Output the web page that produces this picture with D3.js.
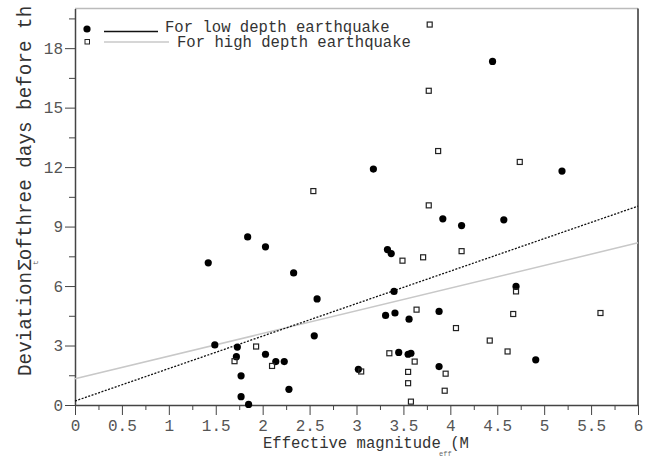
<!doctype html>
<html>
  <head>
    <meta charset="UTF-8">
    <title>Deviation vs effective magnitude</title>
    <script src="https://d3js.org/d3.v7.min.js"></script>
    <style>
      body { margin: 0; background: #fff; }
      text { font-family: "Liberation Mono", "DejaVu Sans Mono", monospace; }
      .tick text { font-size: 16px; fill: #555; }
      .axis path, .axis line { stroke: #444; }
    </style>
  </head>
  <body>
    <svg id="chart" width="648" height="458"></svg>
    <script>
      // low depth earthquakes (filled circles)
      const lowMag = [1.42, 1.49, 1.84, 2.03, 2.33, 2.58, 2.55, 1.73, 1.72, 2.03, 2.14, 2.23,
        1.77, 1.77, 1.85, 2.28, 3.02, 3.33, 3.37, 3.92, 3.40, 3.31, 3.41, 3.56, 3.88, 3.45,
        3.55, 3.58, 3.88, 3.18, 4.45, 5.19, 4.12, 4.57, 4.70, 4.91];
      const lowDev = [7.17, 3.03, 8.48, 7.98, 6.66, 5.35, 3.49, 2.92, 2.44, 2.56, 2.19, 2.19,
        1.47, 0.42, 0.03, 0.79, 1.80, 7.84, 7.64, 9.39, 5.73, 4.52, 4.64, 4.33, 4.72, 2.65,
        2.56, 2.61, 1.94, 11.90, 17.33, 11.80, 9.05, 9.34, 5.98, 2.28];

      // high depth earthquakes (open squares)
      const highMag = [1.70, 1.93, 2.10, 3.05, 3.49, 3.71, 3.77, 3.64, 3.35, 3.62, 3.55, 3.55,
        3.58, 3.95, 3.94, 3.78, 3.77, 3.87, 2.54, 4.74, 4.12, 4.70, 4.67, 5.60, 4.06, 4.42, 4.61];
      const highDev = [2.21, 2.95, 1.97, 1.69, 7.28, 7.45, 10.07, 4.81, 2.61, 2.19, 1.67, 1.10,
        0.17, 1.58, 0.72, 19.19, 15.85, 12.81, 10.79, 12.26, 7.76, 5.73, 4.59, 4.64, 3.88, 3.25, 2.70];

      // fitted lines, end points
      const fitMag = [0, 6];
      const lowFit = [0.2, 10.03];
      const highFit = [1.32, 8.18];

      const xTicks = d3.range(0, 6.01, 0.5);
      const yTicks = [0, 3, 6, 9, 12, 15, 18];
      const legendLabels = ["For low depth earthquake", "For high depth earthquake"];

      const svg = d3.select("#chart");
      const x = d3.scaleLinear().domain([0, 6]).range([75, 638]);
      const y = d3.scaleLinear().domain([0, 20]).range([405, 8.5]);

      // frame: top (light) and right (dark)
      svg.append("line").attr("x1", x(0)).attr("x2", x(6)).attr("y1", y(20)).attr("y2", y(20))
        .attr("stroke", "#bbb").attr("stroke-width", 1.5);
      svg.append("line").attr("x1", x(6)).attr("x2", x(6)).attr("y1", y(20)).attr("y2", y(0))
        .attr("stroke", "#333").attr("stroke-width", 1.5);

      // minor ticks
      const xMinor = d3.axisBottom(x).tickValues(d3.range(0.25, 6, 0.5)).tickSize(5).tickFormat("");
      svg.append("g").attr("class", "axis").attr("transform", `translate(0,${y(0)})`).call(xMinor)
        .call(g => g.select(".domain").remove());
      const yMinor = d3.axisLeft(y).tickValues(d3.range(1.5, 20, 3)).tickSize(6).tickFormat("");
      svg.append("g").attr("class", "axis").attr("transform", `translate(${x(0)},0)`).call(yMinor)
        .call(g => g.select(".domain").remove());

      // major axes
      svg.append("g").attr("class", "axis").attr("transform", `translate(0,${y(0)})`)
        .call(d3.axisBottom(x).tickValues(xTicks).tickSize(10).tickSizeOuter(0).tickPadding(5)
          .tickFormat(d => d3.format("~g")(d)))
        .call(g => g.select(".domain").attr("stroke-width", 1.5));
      svg.append("g").attr("class", "axis").attr("transform", `translate(${x(0)},0)`)
        .call(d3.axisLeft(y).tickValues(yTicks).tickSize(10).tickSizeOuter(0).tickPadding(2))
        .call(g => g.select(".domain").attr("stroke-width", 1.5));

      // fitted lines
      const line = d3.line().x(d => x(d[0])).y(d => y(d[1]));
      svg.append("path").datum(d3.zip(fitMag, highFit)).attr("d", line)
        .attr("fill", "none").attr("stroke", "#c8c8c8").attr("stroke-width", 1.5);
      svg.append("path").datum(d3.zip(fitMag, lowFit)).attr("d", line)
        .attr("fill", "none").attr("stroke", "#111").attr("stroke-width", 1.3)
        .attr("stroke-dasharray", "2,1.5");

      // points
      svg.append("g").selectAll("circle").data(d3.zip(lowMag, lowDev)).join("circle")
        .attr("cx", d => x(d[0])).attr("cy", d => y(d[1])).attr("r", 3.6).attr("fill", "#000");
      svg.append("g").selectAll("rect").data(d3.zip(highMag, highDev)).join("rect")
        .attr("x", d => x(d[0]) - 2.5).attr("y", d => y(d[1]) - 2.5)
        .attr("width", 5).attr("height", 5)
        .attr("fill", "none").attr("stroke", "#222").attr("stroke-width", 1.2);

      // legend
      const lg = svg.append("g");
      lg.append("circle").attr("cx", 87).attr("cy", 29).attr("r", 3.6).attr("fill", "#000");
      lg.append("line").attr("x1", 104).attr("x2", 158).attr("y1", 31.5).attr("y2", 31.5)
        .attr("stroke", "#111").attr("stroke-width", 1.5);
      lg.append("text").attr("x", 165).attr("y", 32).attr("font-size", "15.6px")
        .attr("fill", "#333").text(legendLabels[0]);
      lg.append("rect").attr("x", 85).attr("y", 39.5).attr("width", 4.5).attr("height", 4.5)
        .attr("fill", "none").attr("stroke", "#222").attr("stroke-width", 1);
      lg.append("line").attr("x1", 104).attr("x2", 169).attr("y1", 42).attr("y2", 42)
        .attr("stroke", "#c8c8c8").attr("stroke-width", 1.5);
      lg.append("text").attr("x", 177).attr("y", 47).attr("font-size", "15.6px")
        .attr("fill", "#333").text(legendLabels[1]);

      // x axis title
      svg.append("text").attr("x", 263).attr("y", 448).attr("font-size", "15.6px")
        .attr("fill", "#333").text("Effective magnitude (M");
      svg.append("text").attr("x", 439).attr("y", 456).attr("font-size", "7px")
        .attr("fill", "#666").text("eff");

      // y axis title
      const yt = svg.append("g").attr("transform", "translate(31,376) rotate(-90)");
      yt.append("text").attr("x", 0).attr("y", 0).attr("font-size", "19.3px").attr("fill", "#333")
        .text("Deviation ofthree days before th");
      yt.append("text").attr("x", 105).attr("y", 0).attr("font-size", "20px").attr("fill", "#333")
        .text("Σ");
      yt.append("text").attr("x", 111).attr("y", 7).attr("font-size", "8px").attr("fill", "#555")
        .text("t");
    </script>
  </body>
</html>
